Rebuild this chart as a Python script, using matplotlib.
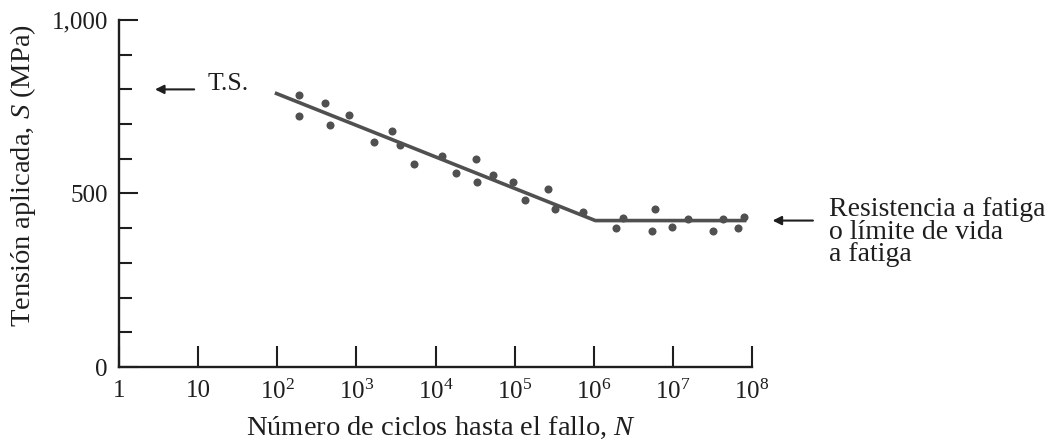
import numpy as np
import matplotlib
matplotlib.use("Agg")
import matplotlib.pyplot as plt
from matplotlib.ticker import FixedLocator, FixedFormatter, MultipleLocator

plt.rcParams['font.family'] = ['Liberation Serif', 'DejaVu Serif']
plt.rcParams['mathtext.fontset'] = 'custom'
plt.rcParams['mathtext.rm'] = 'Liberation Serif'
plt.rcParams['mathtext.it'] = 'Liberation Serif:italic'

# ---- data (log10 of cycles, stress in MPa) ----
logN_points = [2.28, 2.27, 2.60, 2.67, 2.91, 3.22, 3.45, 3.55, 3.73, 4.08,
               4.26, 4.51, 4.52, 4.73, 4.98, 5.13, 5.42, 5.51, 5.87, 6.37,
               6.28, 6.78, 6.73, 6.99, 7.19, 7.51, 7.63, 7.82, 7.90]
S_points = [784, 723, 761, 697, 725, 649, 681, 639, 584, 608,
            560, 599, 533, 553, 534, 481, 512, 455, 448, 429,
            400, 454, 392, 404, 426, 392, 426, 400, 431]
logN_fit = [1.97, 6.02, 7.93]
S_fit = [790, 422, 422]
x_tick_exp = [0, 1, 2, 3, 4, 5, 6, 7, 8]
x_tick_labels = ['1', '10', r'$\mathregular{10^{2}}$', r'$\mathregular{10^{3}}$',
                 r'$\mathregular{10^{4}}$', r'$\mathregular{10^{5}}$',
                 r'$\mathregular{10^{6}}$', r'$\mathregular{10^{7}}$',
                 r'$\mathregular{10^{8}}$']
y_ticks = [0, 500, 1000]
y_tick_labels = ['0', '500', '1,000']
ts_value = 800
fatigue_value = 422

N_points = 10.0 ** np.array(logN_points)
N_fit = 10.0 ** np.array(logN_fit)

dark = '#1e1e1e'
mark = '#505050'

fig = plt.figure(figsize=(10.58, 4.41), dpi=100)
ax = fig.add_axes([119/1058, 74/441, 633/1058, 347/441])

ax.plot(N_fit, S_fit, color=mark, lw=2.6, solid_capstyle='butt', zorder=2)
ax.plot(N_points, S_points, 'o', color=mark, ms=5.8, mec='none', zorder=3)

ax.set_xscale('log')
ax.set_xlim(1, 1e8)
ax.set_ylim(0, 1000)

ax.xaxis.set_major_locator(FixedLocator([10.0 ** e for e in x_tick_exp]))
ax.xaxis.set_major_formatter(FixedFormatter(x_tick_labels))
ax.xaxis.set_minor_locator(FixedLocator([]))
ax.yaxis.set_major_locator(FixedLocator(y_ticks))
ax.yaxis.set_major_formatter(FixedFormatter(y_tick_labels))
ax.yaxis.set_minor_locator(MultipleLocator(100))

for s in ['top', 'right']:
    ax.spines[s].set_visible(False)
for s in ['left', 'bottom']:
    ax.spines[s].set_color(dark)
    ax.spines[s].set_linewidth(1.7)

ax.tick_params(axis='x', which='major', direction='in', length=15, width=1.5,
               color=dark, labelcolor=dark, labelsize=18, pad=9.5)
ax.tick_params(axis='y', which='major', direction='in', length=14, width=1.5,
               color=dark, labelcolor=dark, labelsize=18, pad=8)
ax.tick_params(axis='y', which='minor', direction='in', length=9, width=1.5,
               color=dark)

ax.set_xlabel(r'Número de ciclos hasta el fallo, $\mathit{N}$', fontsize=20.5,
              color=dark)
ax.xaxis.set_label_coords(0.509, -0.138)
ax.set_ylabel(r'Tensión aplicada, $\mathit{S}$ (MPa)', fontsize=20.5, color=dark)
ax.yaxis.set_label_coords(-0.128, 0.553)

arrow = dict(arrowstyle='-|>', color=dark, lw=1.5, mutation_scale=13,
             shrinkA=0, shrinkB=0)
ax.annotate('', xy=(10 ** 0.455, ts_value), xytext=(10 ** 0.95, ts_value),
            arrowprops=arrow, annotation_clip=False)
ax.text(10 ** 1.12, ts_value + 16, 'T.S.', fontsize=18.5, color=dark,
        ha='left', va='center')

ax.annotate('', xy=(10 ** 8.26, fatigue_value), xytext=(10 ** 8.77, fatigue_value),
            arrowprops=arrow, annotation_clip=False)
ax.text(10 ** 8.97, 389, 'Resistencia a fatiga\no límite de vida\na fatiga',
        fontsize=20, color=dark, ha='left', va='center', linespacing=0.85,
        clip_on=False)

fig.savefig('out.png', dpi=100)
